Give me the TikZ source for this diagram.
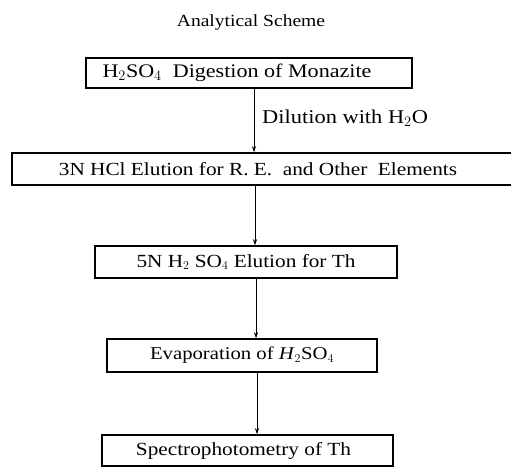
\documentclass[tikz,border=0pt]{standalone}
\usepackage{fontspec}
\setmainfont{Liberation Serif}[FakeStretch=1.15]
\usetikzlibrary{arrows.meta}
\begin{document}
\begin{tikzpicture}[x=1pt,y=-1pt,
  box/.style={draw, line width=1.5pt, rectangle, inner sep=0pt, font=\fontsize{18.5}{22}\selectfont},
  lbl/.style={font=\fontsize{18.5}{22}\selectfont, inner sep=0pt},
  arr/.style={line width=0.8pt, -{Stealth[length=6pt,width=4pt]}}]
\useasboundingbox (0,0) rectangle (511,468);
\node[lbl, font=\fontsize{17}{20}\selectfont] (title) at (251,22) {Analytical Scheme};
\node[box, minimum width=326, minimum height=30, font=\fontsize{19.2}{22}\selectfont] (b1) at (249,73) {\hspace*{-24pt}H$_2$SO$_4$\ \ Digestion of Monazite};
\node[box, minimum width=508, minimum height=32] (b2) at (266,169) {\hspace*{-16pt}3N HCl Elution for R. E.\ \ and Other\ \ Elements};
\node[box, minimum width=302, minimum height=32] (b3) at (246,262) {5N H$_2$ SO$_4$ Elution for Th};
\node[box, minimum width=270, minimum height=33, font=\fontsize{18}{22}\selectfont] (b4) at (242,355.5) {Evaporation of \textit{H}$_2$SO$_4$};
\node[box, minimum width=291, minimum height=31] (b5) at (247.5,450.5) {\hspace*{-8pt}Spectrophotometry of Th};
\node[lbl, anchor=west, font=\fontsize{19.5}{22}\selectfont] (dil) at (262,118) {Dilution with H$_2$O};
\coordinate (x1) at (254,0);
\coordinate (x2) at (255,0);
\coordinate (x3) at (256,0);
\coordinate (x4) at (257,0);
\draw[arr] (b1.south -| x1) -- (b2.north -| x1);
\draw[arr] (b2.south -| x2) -- (b3.north -| x2);
\draw[arr] (b3.south -| x3) -- (b4.north -| x3);
\draw[arr] (b4.south -| x4) -- (b5.north -| x4);
\end{tikzpicture}
\end{document}
